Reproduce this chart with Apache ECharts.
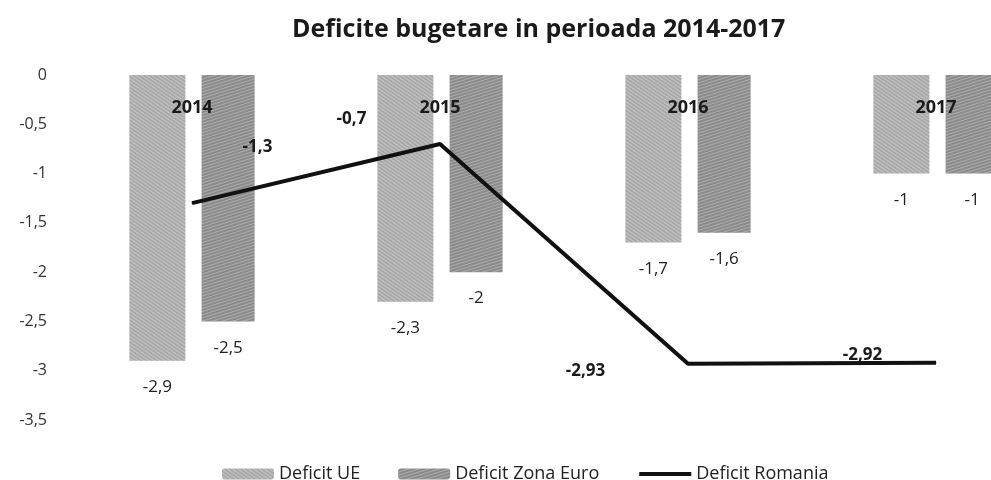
<!DOCTYPE html>
<html>
<head>
<meta charset="utf-8">
<script src="https://cdn.jsdelivr.net/npm/echarts@6/dist/echarts.min.js"></script>
<style>
  html, body { margin: 0; padding: 0; background: #fff; }
  #main { width: 991px; height: 480px; }
</style>
</head>
<body>
<div id="main"></div>
<script>
// date grafic
const years = ['2014', '2015', '2016', '2017'];
const deficitUE = [-2.9, -2.3, -1.7, -1];
const deficitZonaEuro = [-2.5, -2, -1.6, -1];
const deficitRomania = [-1.3, -0.7, -2.93, -2.92];
const yTicks = [0, -0.5, -1, -1.5, -2, -2.5, -3, -3.5];

// pozitia etichetelor liniei fata de punct (stil)
const lineLabelPos = [[66, -55], [-88, -24], [-102, 8], [-73, -7]];

const FONT = '"Open Sans", "Noto Sans", sans-serif';
const fmt = v => String(v).replace('.', ',');

const chart = echarts.init(document.getElementById('main'));

const option = {
  backgroundColor: '#ffffff',
  animation: false,
  title: {
    text: 'Deficite bugetare in perioada 2014-2017',
    left: 287,
    top: 12,
    textStyle: { fontFamily: FONT, fontSize: 25, fontWeight: 'bold', color: '#1a1a1a' }
  },
  legend: {
    top: 460,
    left: 217,
    itemWidth: 52,
    itemHeight: 11,
    itemGap: 38,
    textStyle: { fontFamily: FONT, fontSize: 18, color: '#222' },
    data: [
      'Deficit UE',
      'Deficit Zona Euro',
      { name: 'Deficit Romania', itemStyle: { opacity: 0 }, lineStyle: { width: 4 } }
    ]
  },
  grid: { left: 68, width: 992, top: 75, bottom: 60, outerBoundsMode: 'none' },
  xAxis: {
    type: 'category',
    data: years,
    position: 'top',
    z: 10,
    axisLine: { show: false },
    axisTick: { show: false },
    axisLabel: {
      inside: true,
      margin: 24,
      fontFamily: FONT,
      fontSize: 18,
      fontWeight: 'bold',
      color: '#1a1a1a'
    }
  },
  yAxis: {
    type: 'value',
    min: -3.5,
    max: 0,
    interval: 0.5,
    splitLine: { show: false },
    axisLine: { show: false },
    axisTick: { show: false },
    axisLabel: {
      margin: 21,
      fontFamily: FONT,
      fontSize: 16,
      color: '#333',
      formatter: v => yTicks.indexOf(v) >= 0 ? fmt(v) : ''
    }
  },
  series: [
    {
      name: 'Deficit UE',
      type: 'bar',
      data: deficitUE,
      barWidth: 56,
      barGap: '29%',
      itemStyle: {
        color: '#a8a8a8',
        decal: {
          symbol: 'rect', symbolSize: 1,
          dashArrayX: [1, 0], dashArrayY: [1, 2], rotation: 0.6,
          color: 'rgba(255,255,255,0.35)'
        }
      },
      label: {
        show: true, position: 'bottom', distance: 18,
        fontFamily: FONT, fontSize: 17, color: '#222',
        formatter: p => fmt(p.value)
      }
    },
    {
      name: 'Deficit Zona Euro',
      type: 'bar',
      data: deficitZonaEuro,
      barWidth: 53,
      itemStyle: {
        color: '#8a8a8a',
        decal: {
          symbol: 'rect', symbolSize: 1,
          dashArrayX: [1, 0], dashArrayY: [1, 2], rotation: -0.3,
          color: 'rgba(255,255,255,0.3)'
        }
      },
      label: {
        show: true, position: 'bottom', distance: 18,
        fontFamily: FONT, fontSize: 17, color: '#222',
        formatter: p => fmt(p.value)
      }
    },
    {
      name: 'Deficit Romania',
      type: 'line',
      z: 5,
      data: deficitRomania.map((v, i) => ({
        value: v,
        label: { position: lineLabelPos[i] }
      })),
      symbol: 'circle',
      symbolSize: 1,
      showSymbol: true,
      lineStyle: { color: '#111', width: 4 },
      itemStyle: { color: '#111' },
      label: {
        show: true,
        align: 'center',
        verticalAlign: 'middle',
        fontFamily: FONT, fontSize: 17, fontWeight: 'bold', color: '#1a1a1a',
        formatter: p => fmt(p.value)
      },
      labelLayout: { hideOverlap: false }
    }
  ]
};

chart.setOption(option);
</script>
</body>
</html>
